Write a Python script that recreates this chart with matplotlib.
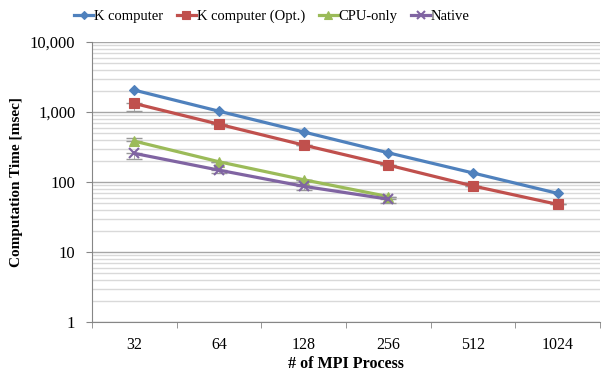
import numpy as np
import matplotlib
matplotlib.use("Agg")
import matplotlib.pyplot as plt
from matplotlib.ticker import FixedLocator, FuncFormatter, LogLocator, NullFormatter

procs = ["32", "64", "128", "256", "512", "1024"]

k_computer = [2060, 1030, 520, 262, 135, 69]
k_opt = [1330, 670, 338, 175, 88, 48]
cpu_only = [385, 195, 108, 62]
native = [257, 148, 87, 57]

# small error bars (lower, upper) seen as grey caps
k_opt_err = [[280, 0, 0, 0, 0, 0], [0, 0, 0, 0, 0, 0]]
cpu_err = [[0, 0, 0, 0], [40, 0, 0, 0]]
native_err = [[40, 15, 9, 6], [0, 0, 0, 0]]

plt.rcParams['font.family'] = ['Liberation Serif', 'DejaVu Serif']

fig = plt.figure(figsize=(6.09, 3.76), dpi=100)
ax = fig.add_axes([0.151, 0.1436, 0.834, 0.7444])

x = np.arange(len(procs))
xs = np.arange(len(cpu_only))

series = [
    (x, k_computer, None, '#4f81bd', 'D', 'K computer', 5),
    (x, k_opt, k_opt_err, '#c0504d', 's', 'K computer (Opt.)', 6.5),
    (xs, cpu_only, cpu_err, '#9bbb59', '^', 'CPU-only', 7),
    (xs, native, native_err, '#8064a2', 'x', 'Native', 7),
]
for xx, yy, err, c, m, lab, ms in series:
    if err is not None:
        ax.errorbar(xx, yy, yerr=err, fmt='none', ecolor='#999999',
                    elinewidth=0.6, capsize=5.5, capthick=1.0, zorder=2)
    ax.plot(xx, yy, color=c, lw=2.3, marker=m, ms=ms, mec=c,
            mew=1.5 if m == 'x' else 0.8, label=lab, zorder=3)

ax.set_yscale('log')
ax.set_ylim(1, 10000)
ax.set_xlim(-0.5, 5.5)

ax.yaxis.set_major_locator(LogLocator(base=10, numticks=10))
ax.yaxis.set_minor_locator(LogLocator(base=10, subs=np.arange(2, 10), numticks=10))
ax.yaxis.set_major_formatter(FuncFormatter(lambda v, p: f"{int(round(v)):,}"))
ax.yaxis.set_minor_formatter(NullFormatter())
ax.grid(True, which='major', axis='y', color='#a6a6a6', lw=1.0, zorder=0)
ax.grid(True, which='minor', axis='y', color='#d9d9d9', lw=1.0, zorder=0)

ax.set_xticks(x)
ax.set_xticklabels(procs)
ax.xaxis.set_minor_locator(FixedLocator(np.arange(-0.5, 6, 1)))
ax.tick_params(axis='x', which='major', length=0, pad=11, labelsize=11.5)
ax.tick_params(axis='x', which='minor', length=4, color='#868686', direction='out')
ax.tick_params(axis='y', which='major', length=4, color='#868686', labelsize=12, pad=8)
ax.tick_params(axis='y', which='minor', length=0)

for s in ['top', 'right']:
    ax.spines[s].set_visible(False)
ax.spines['left'].set_color('#868686')
ax.spines['bottom'].set_color('#868686')

ax.set_ylabel('Computation Time [msec]', fontweight='bold', fontsize=11, labelpad=5)
ax.set_xlabel('# of MPI Process', fontweight='bold', fontsize=11.5, labelpad=2)

fig.legend(loc='center left', bbox_to_anchor=(0.122, 0.956), ncol=4, frameon=False,
           fontsize=10.5, handlelength=1.3, handletextpad=0.05, columnspacing=0.95,
           markerscale=0.8, borderpad=0, borderaxespad=0)

fig.savefig('out.png', dpi=100)
